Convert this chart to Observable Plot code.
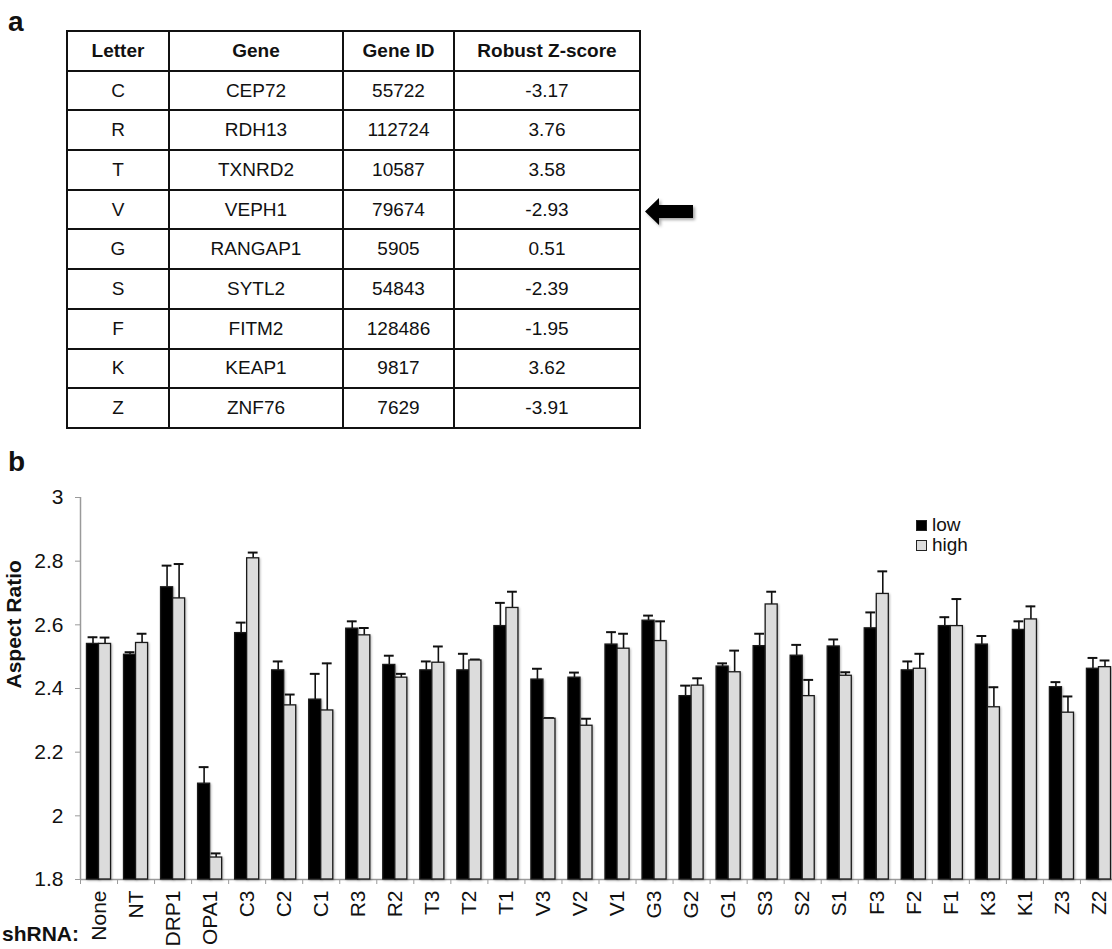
<!DOCTYPE html>
<html>
<head>
<meta charset="utf-8">
<script src="https://cdn.jsdelivr.net/npm/d3@7"></script>
<script src="https://cdn.jsdelivr.net/npm/@observablehq/plot@0.6"></script>
<style>
  html, body { margin: 0; padding: 0; background: #fff; }
  body { width: 1112px; height: 949px; overflow: hidden; position: relative;
         font-family: "Liberation Sans", Arial, Helvetica, sans-serif; color: #111; }
  .panel { position: absolute; font-weight: bold; font-size: 28px; line-height: 1; }
  #tbl { position: absolute; left: 66px; top: 30px; width: 573px; height: 398px;
         border-collapse: collapse; table-layout: fixed; }
  #tbl th, #tbl td { border: 2.5px solid #111; text-align: center; font-size: 19px;
                     padding: 0; height: 39.7px; box-sizing: border-box; }
  #tbl th { font-weight: bold; }
  #arrow { position: absolute; left: 0; top: 0; }
  #chart { position: absolute; left: 0; top: 480px; }
  #chart svg { overflow: hidden; }
  #chart g[aria-label="rect"] rect { filter: drop-shadow(1.5px 1px 1px rgba(0,0,0,0.28)); }
  #legend { position: absolute; left: 916px; top: 515px; font-size: 19px; line-height: 20px; }
  #legend .row { display: flex; align-items: center; height: 20px; }
  #legend .sw { width: 9px; height: 9px; border: 1px solid #222; margin-right: 5px; }
  #shrna { position: absolute; left: 2px; top: 922px; font-weight: bold; font-size: 21px; }
</style>
</head>
<body>
<div class="panel" style="left:8px; top:8px;">a</div>
<div class="panel" style="left:8px; top:448px;">b</div>
<table id="tbl"></table>
<svg id="arrow" width="1112" height="440">
  <defs><filter id="sh" x="-20%" y="-30%" width="150%" height="170%"><feDropShadow dx="2" dy="2" stdDeviation="1.5" flood-color="#000" flood-opacity="0.35"/></filter></defs>
  <polygon points="645,211.5 659,198 659,205 693,205 693,218 659,218 659,225" fill="#000" filter="url(#sh)"/>
</svg>
<div id="chart"></div>
<div id="legend"></div>
<div id="shrna">shRNA:</div>
<script>
// ---------- Panel a: table data ----------
const tableHeader = ["Letter", "Gene", "Gene ID", "Robust Z-score"];
const letters = ["C", "R", "T", "V", "G", "S", "F", "K", "Z"];
const genes = ["CEP72", "RDH13", "TXNRD2", "VEPH1", "RANGAP1", "SYTL2", "FITM2", "KEAP1", "ZNF76"];
const geneIds = [55722, 112724, 10587, 79674, 5905, 54843, 128486, 9817, 7629];
const zScores = [-3.17, 3.76, 3.58, -2.93, 0.51, -2.39, -1.95, 3.62, -3.91];

// ---------- Panel b: chart data ----------
const categories = ["None","NT","DRP1","OPA1","C3","C2","C1","R3","R2","T3","T2","T1","V3","V2","V1",
                    "G3","G2","G1","S3","S2","S1","F3","F2","F1","K3","K1","Z3","Z2"];
const seriesNames = ["low", "high"];
const lowValues  = [2.540,2.506,2.718,2.101,2.574,2.457,2.365,2.588,2.474,2.457,2.457,2.596,2.428,2.434,2.538,
                    2.613,2.376,2.469,2.533,2.503,2.532,2.589,2.457,2.596,2.538,2.584,2.404,2.462];
const lowErrors  = [0.021,0.008,0.068,0.052,0.033,0.028,0.081,0.023,0.029,0.028,0.052,0.073,0.034,0.016,0.039,
                    0.016,0.033,0.010,0.039,0.034,0.022,0.050,0.028,0.028,0.027,0.027,0.016,0.034];
const highValues = [2.540,2.543,2.683,1.869,2.809,2.347,2.331,2.567,2.434,2.481,2.488,2.653,2.305,2.283,2.525,
                    2.549,2.409,2.451,2.664,2.376,2.440,2.697,2.462,2.596,2.341,2.617,2.324,2.467];
const highErrors = [0.020,0.029,0.108,0.013,0.018,0.034,0.148,0.023,0.012,0.051,0.003,0.051,0.002,0.022,0.047,
                    0.062,0.023,0.068,0.040,0.051,0.011,0.071,0.047,0.085,0.063,0.041,0.051,0.021];
const yTicks = [1.8, 2, 2.2, 2.4, 2.6, 2.8, 3];
const yLabel = "Aspect Ratio";

// ---------- build table ----------
const tbl = document.getElementById("tbl");
const colW = [102, 174, 111, 186];
const cg = document.createElement("colgroup");
colW.forEach(w => { const c = document.createElement("col"); c.style.width = w + "px"; cg.appendChild(c); });
tbl.appendChild(cg);
const hr = document.createElement("tr");
tableHeader.forEach(h => { const th = document.createElement("th"); th.textContent = h; hr.appendChild(th); });
tbl.appendChild(hr);
letters.forEach((l, i) => {
  const tr = document.createElement("tr");
  [l, genes[i], String(geneIds[i]), zScores[i].toFixed(2)].forEach(v => {
    const td = document.createElement("td"); td.textContent = v; tr.appendChild(td);
  });
  tbl.appendChild(tr);
});

// ---------- build chart ----------
const rows = [];
categories.forEach((c, i) => {
  rows.push({i, cat: c, series: "low", value: lowValues[i], err: lowErrors[i]});
  rows.push({i, cat: c, series: "high", value: highValues[i], err: highErrors[i]});
});
const yMin = yTicks[0], yMax = yTicks[yTicks.length - 1];
const pad = 0.175;            // outer gap of each category group (fraction of step)
const left  = d => d.i + (d.series === "low" ? pad : 0.5);
const right = d => d.i + (d.series === "low" ? 0.5 : 1 - pad);
const mid   = d => (left(d) + right(d)) / 2;
const capIn = 0.03;

const chart = Plot.plot({
  width: 1112,
  height: 469,
  marginLeft: 80,
  marginRight: -5,
  marginTop: 17,
  marginBottom: 70,
  style: {fontFamily: '"Liberation Sans", Arial, sans-serif', color: "#111", background: "transparent"},
  x: {domain: [0, categories.length]},
  y: {domain: [yMin, yMax]},
  color: {domain: seriesNames, range: ["#000000", "#dcdcdc"]},
  marks: [
    Plot.ruleX([0], {stroke: "#9a9a9a", strokeWidth: 1.5}),
    Plot.ruleY([yMin], {stroke: "#9a9a9a", strokeWidth: 1.5}),
    Plot.axisY({ticks: yTicks, tickFormat: d => String(d), tickSize: 5, tickPadding: 12,
                stroke: "#9a9a9a", fontSize: 21, label: null}),
    Plot.axisX({ticks: d3.range(0, categories.length + 1), tickFormat: () => "", tickSize: 5,
                stroke: "#9a9a9a", label: null}),
    Plot.axisX({ticks: categories.map((c, i) => i + 0.5), tickFormat: d => categories[Math.floor(d)],
                tickSize: 0, tickPadding: 11, tickRotate: -90, fontSize: 21, label: null}),
    Plot.ruleX(rows, {x: mid, y1: "value", y2: d => d.value + d.err, stroke: "#111", strokeWidth: 1.6}),
    Plot.ruleY(rows, {y: d => d.value + d.err, x1: d => left(d) + capIn, x2: d => right(d) - capIn,
                      stroke: "#111", strokeWidth: 2}),
    Plot.rectY(rows, {x1: left, x2: right, y1: () => yMin, y2: "value", fill: "series",
                      stroke: "#1a1a1a", strokeWidth: 1.3}),
    Plot.text([yLabel], {frameAnchor: "left", rotate: -90, dx: -66, fontWeight: "bold", fontSize: 21, fill: "#111"})
  ]
});
document.getElementById("chart").appendChild(chart);

// ---------- legend ----------
const legend = document.getElementById("legend");
const legendFill = {low: "#000000", high: "#dcdcdc"};
seriesNames.forEach(s => {
  const r = document.createElement("div"); r.className = "row";
  const sw = document.createElement("div"); sw.className = "sw"; sw.style.background = legendFill[s];
  const t = document.createElement("span"); t.textContent = s;
  r.appendChild(sw); r.appendChild(t); legend.appendChild(r);
});
</script>
</body>
</html>
